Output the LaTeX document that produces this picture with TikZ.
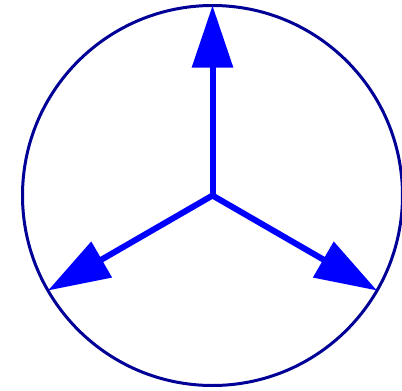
\documentclass[tikz,border=0pt]{standalone}
\usetikzlibrary{arrows.meta}
\definecolor{ringblue}{RGB}{0,0,150}
\definecolor{arrowblue}{RGB}{0,0,255}
\begin{document}
\begin{tikzpicture}[x=1pt,y=-1pt,
  ring/.style={draw=ringblue,line width=3pt},
  vec/.style={draw=arrowblue,fill=arrowblue,line width=6pt,-{Triangle[length=62pt,width=40pt]}}]
\useasboundingbox (0,0) rectangle (402,391);
\coordinate (o) at (212.5,195.5);
\draw[ring] (o) circle[radius=190];
\coordinate (t) at (212.5,5.5);
\coordinate (l) at (48,290.5);
\coordinate (r) at (377,290.5);
\draw[vec] (o) -- (t);
\draw[vec] (o) -- (l);
\draw[vec] (o) -- (r);
\end{tikzpicture}
\end{document}
